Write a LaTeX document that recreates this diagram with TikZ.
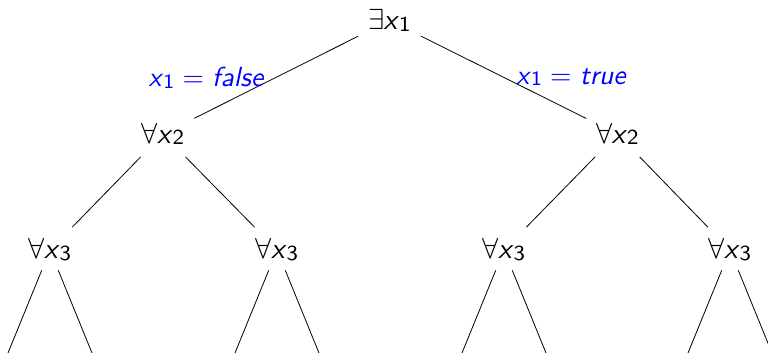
\documentclass[tikz,border=0pt]{standalone}
\usepackage{fontspec}
\newcommand\mysub[1]{\raisebox{-0.6pt}{\fontsize{7.4}{8}\selectfont #1}}
\newcommand\myq[2]{$#1$\kern-0.3pt\textit{x}\mysub{#2}}
\begin{document}
\begin{tikzpicture}[x=1pt,y=-1pt,
  every node/.style={font=\sffamily, inner sep=0pt, scale=2.9},
  topedge/.style={line width=0.8pt, shorten <=35pt, shorten >=35pt},
  midedge/.style={line width=0.8pt, shorten <=32pt, shorten >=32pt},
  leafedge/.style={line width=0.8pt, shorten <=22pt},
  lbl/.style={text=blue, scale=0.95}]
\useasboundingbox (0,0) rectangle (768,353);
% nodes
\node (r) at (389.5,20.5) {\myq{\exists}{1}};
\node (l) at (163,134) {\myq{\forall}{2}};
\node (rr) at (617.5,134) {\myq{\forall}{2}};
\node (ll) at (50,250) {\myq{\forall}{3}};
\node (lr) at (277,250) {\myq{\forall}{3}};
\node (rl) at (504,250) {\myq{\forall}{3}};
\node (rx) at (730,250) {\myq{\forall}{3}};
% leaf ends
\coordinate (lla) at (8,353);   \coordinate (llb) at (92,353);
\coordinate (lra) at (235,353); \coordinate (lrb) at (319,353);
\coordinate (rla) at (462,353); \coordinate (rlb) at (546,353);
\coordinate (rxa) at (688,353); \coordinate (rxb) at (772,353);
% edges
\draw[topedge] (r.center) -- (l.center);
\draw[topedge] (r.center) -- (rr.center);
\draw[midedge] (l.center) -- (ll.center);
\draw[midedge] (l.center) -- (lr.center);
\draw[midedge] (rr.center) -- (rl.center);
\draw[midedge] (rr.center) -- (rx.center);
\foreach \n in {ll,lr,rl,rx}{
  \draw[leafedge] (\n.center) -- (\n a);
  \draw[leafedge] (\n.center) -- (\n b);
}
% labels
\node[lbl] (lf) at (206.5,78) {\textit{x}\mysub{1}\hspace{3pt}$=$\hspace{3pt}\textit{false}};
\node[lbl] (lt) at (571.5,77) {\textit{x}\mysub{1}\hspace{3pt}$=$\hspace{3pt}\textit{true}};
\end{tikzpicture}
\end{document}
